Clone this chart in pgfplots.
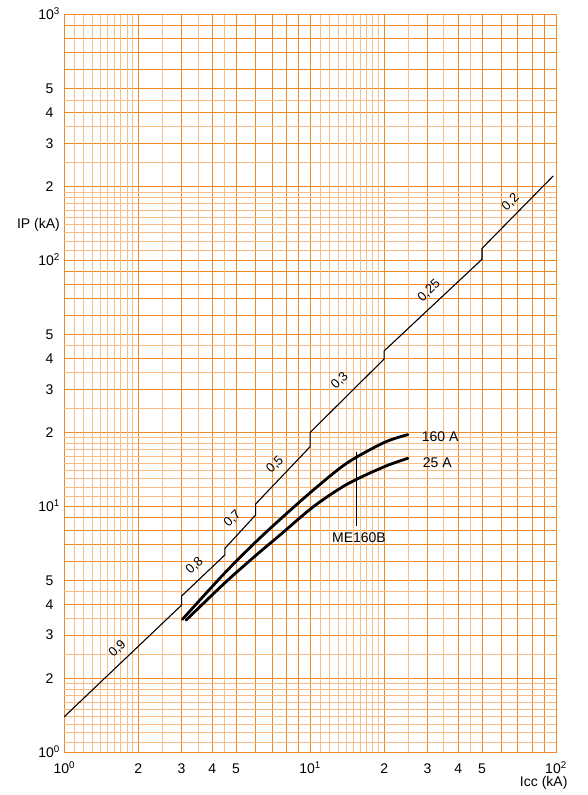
\documentclass[border=0pt]{standalone}
\usepackage{pgfplots}
\pgfplotsset{compat=1.18}
\usepackage{fontspec}
\setmainfont{Liberation Sans}
\definecolor{gridor}{RGB}{242,137,40}
\definecolor{gridlt}{RGB}{248,188,132}

\begin{document}
\begin{tikzpicture}
\useasboundingbox (-64.3pt,-42.7pt) rectangle (522.7pt,752.3pt);
\begin{axis}[
    at={(0,0)}, anchor=south west,
    scale only axis,
    width=491.7pt, height=737.6pt,
    xmode=log, ymode=log,
    xmin=1, xmax=100, ymin=1, ymax=1000,
    clip=false,
    axis line style={gridor, line width=1pt},
    grid=major,
    major grid style={gridor, line width=0.9pt},
    major tick length=0pt, minor tick length=0pt,
    xtick={1,2,3,4,5,6,7,8,9,10,20,30,40,50,60,70,80,90,100},
    xticklabels={10\textsuperscript{0},2,3,4,5,,,,,10\textsuperscript{1},2,3,4,5,,,,,10\textsuperscript{2}},
    ytick={1,2,3,4,5,6,7,8,9,10,20,30,40,50,60,70,80,90,100,200,300,400,500,600,700,800,900,1000},
    yticklabels={10\textsuperscript{0},2\hspace*{6.5pt},3\hspace*{6.5pt},4\hspace*{6.5pt},5\hspace*{6.5pt},,,,,10\textsuperscript{1},2\hspace*{6.5pt},3\hspace*{6.5pt},4\hspace*{6.5pt},5\hspace*{6.5pt},,,,,10\textsuperscript{2},2\hspace*{6.5pt},3\hspace*{6.5pt},4\hspace*{6.5pt},5\hspace*{6.5pt},,,,,10\textsuperscript{3}},
    extra x ticks={1.1,1.2,1.3,1.4,1.5,1.6,1.7,1.8,1.9,2.5,3.5,4.5,11,12,13,14,15,16,17,18,19,25,35,45},
    extra x tick labels={},
    extra y ticks={1.1,1.2,1.3,1.4,1.5,1.6,1.7,1.8,1.9,2.5,3.5,4.5,11,12,13,14,15,16,17,18,19,25,35,45,110,120,130,140,150,160,170,180,190,250,350,450},
    extra y tick labels={},
    extra tick style={grid=major, major grid style={gridlt, line width=0.9pt}, major tick length=0pt},
    ticklabel style={font=\fontsize{14}{14}\selectfont, inner sep=0pt},
    xticklabel style={anchor=base, yshift=-21pt},
    yticklabel style={anchor=base east, xshift=-4.3pt, yshift=-5pt},
]
% peak current line (power factor steps)
\addplot[black, line width=1.1pt, no markers] coordinates {
    (1,1.396) (3,3.97) (3,4.32) (4.5,6.35) (4.5,6.75) (6,9.23) (6,10.23)
    (10,17.5) (10,20.0) (20,39.8) (20,42.9) (50,101.2) (50,112.1) (97.5,221)
};
% ME160B, 160 A
\addplot[black, line width=2.8pt, no markers, smooth, line cap=round] coordinates {
    (3.02,3.47) (4.5,5.37) (6,7.16) (7.54,8.85) (10.3,11.66) (14.1,15.0) (20,18.2) (25,19.6)
};
% ME160B, 25 A
\addplot[black, line width=2.8pt, no markers, smooth, line cap=round] coordinates {
    (3.13,3.45) (4.5,4.89) (6,6.31) (7.54,7.65) (10.3,9.97) (14.1,12.3) (20,14.5) (25,15.7)
};
\addplot[black, line width=0.8pt, no markers] coordinates {(15.4,16.7) (15.4,8.32)};

\begin{scope}[every node/.style={font=\fontsize{13}{13}\selectfont, rotate=44, inner sep=0pt}]
\node at (axis cs:1.645,2.63) {0,9};
\node at (axis cs:3.39,5.74) {0,8};
\node at (axis cs:4.83,8.89) {0,7};
\node at (axis cs:7.20,14.75) {0,5};
\node at (axis cs:13.2,32.4) {0,3};
\node at (axis cs:30.45,75.4) {0,25};
\node at (axis cs:65.4,172.6) {0,2};
\end{scope}

\node[font=\fontsize{14}{14}\selectfont, inner sep=0pt] at (axis cs:15.8,7.49) {ME160B};
\node[font=\fontsize{14}{14}\selectfont, inner sep=0pt, anchor=west] at (axis cs:28.4,19.3) {160 A};
\node[font=\fontsize{14}{14}\selectfont, inner sep=0pt, anchor=west] at (axis cs:28.7,15.1) {25 A};

\node[font=\fontsize{14}{14}\selectfont, inner sep=0pt, anchor=base] at (axis description cs:0.975,-0.0457) {Icc (kA)};
\node[font=\fontsize{14}{14}\selectfont, inner sep=0pt, anchor=base east] at (axis description cs:-0.0087,0.7108) {IP (kA)};
\end{axis}
\end{tikzpicture}
\end{document}
